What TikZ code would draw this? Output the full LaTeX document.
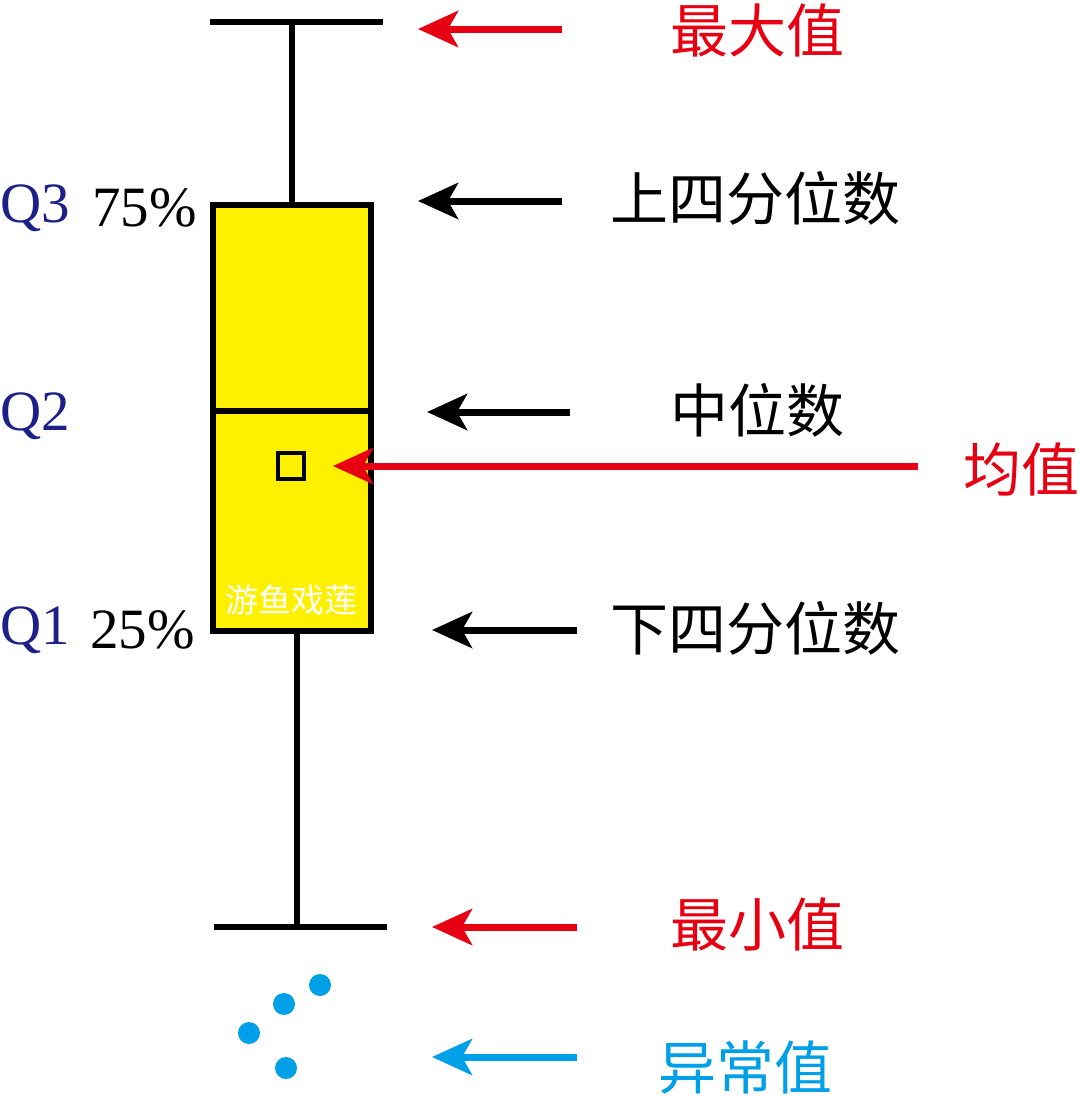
\documentclass[tikz,border=0pt]{standalone}
\usepackage{fontspec}
\setmainfont{Liberation Serif}
\newfontfamily\cjk{Noto Sans CJK SC}
\usetikzlibrary{arrows.meta}
\definecolor{yel}{HTML}{FFF000}
\definecolor{myred}{HTML}{E60012}
\definecolor{myblue}{HTML}{00A0E9}
\definecolor{navy}{HTML}{1D2088}
\begin{document}
\begin{tikzpicture}[x=1pt,y=-1pt,
  bl/.style={line width=6.5pt,black},
  arr/.style={line width=7pt,-{Stealth[length=40pt,width=36pt,inset=10pt]}},
  cn/.style={font=\cjk\fontsize{58}{58}\selectfont},
  lt/.style={font=\fontsize{57}{57}\selectfont,inner sep=0pt}]
\useasboundingbox (0,0) rectangle (1080,1098);
\draw[bl] (210,22) -- (383,22);
\draw[bl] (292,22) -- (292,205);
\draw[bl,fill=yel] (213,205) rectangle (371,631);
\draw[bl] (213,411) -- (371,411);
\draw[line width=4.5pt] (278,453) rectangle (304,479);
\draw[bl] (297,631) -- (297,927);
\draw[bl] (214,927) -- (387,927);
\foreach \p in {(320,985),(284,1004),(249,1033),(286,1068)} \fill[myblue] \p circle (11);
\node[font=\cjk\fontsize{33}{33}\selectfont,text=white] (wm) at (291,600) {游鱼戏莲};
% labels
\node[cn,text=myred] (max) at (757,30) {最大值};
\node[cn] (q3t) at (755,198) {上四分位数};
\node[cn] (med) at (757,410) {中位数};
\node[cn,text=myred] (mean) at (1021,470) {均值};
\node[cn] (q1t) at (755,628) {下四分位数};
\node[cn,text=myred] (min) at (757,924) {最小值};
\node[cn,text=myblue] (out) at (745,1068) {异常值};
\coordinate (a1s) at (562,29); \coordinate (a1e) at (418,29);
\coordinate (a2s) at (562,201); \coordinate (a2e) at (418,201);
\coordinate (a3s) at (570,412); \coordinate (a3e) at (427,412);
\coordinate (a4s) at (918,466); \coordinate (a4e) at (333,466);
\coordinate (a5s) at (577,630); \coordinate (a5e) at (432,630);
\coordinate (a6s) at (577,927); \coordinate (a6e) at (432,927);
\coordinate (a7s) at (577,1057); \coordinate (a7e) at (432,1057);
\draw[arr,myred] (a1s) -- (a1e);
\draw[arr] (a2s) -- (a2e);
\draw[arr] (a3s) -- (a3e);
\draw[arr,myred] (a4s) -- (a4e);
\draw[arr] (a5s) -- (a5e);
\draw[arr,myred] (a6s) -- (a6e);
\draw[arr,myblue] (a7s) -- (a7e);
% left labels
\node[lt,text=navy,anchor=west] (q3) at (0,208) {Q3};
\node[lt,anchor=west] (p75) at (92,208) {75\%};
\node[lt,text=navy,anchor=west] (q2) at (0,416) {Q2};
\node[lt,text=navy,anchor=west] (q1) at (0,630) {Q1};
\node[lt,anchor=west] (p25) at (90,630) {25\%};
\end{tikzpicture}
\end{document}
